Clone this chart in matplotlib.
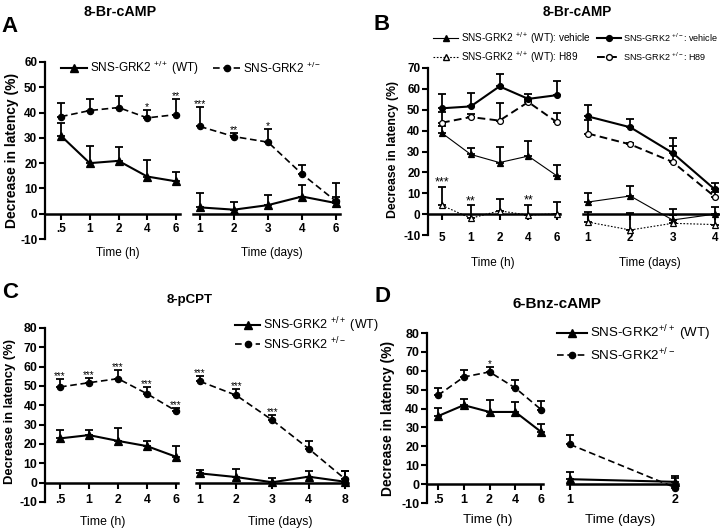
import matplotlib
matplotlib.use('Agg')
import matplotlib.pyplot as plt
from matplotlib.lines import Line2D
import numpy as np

plt.rcParams['font.family'] = ['Liberation Sans', 'DejaVu Sans']
plt.rcParams['mathtext.fontset'] = 'custom'
plt.rcParams['mathtext.rm'] = 'Liberation Sans'
plt.rcParams['mathtext.it'] = 'Liberation Sans:italic'
plt.rcParams['mathtext.bf'] = 'Liberation Sans:bold'

# ---------------- data ----------------
A_hours = ['.5', '1', '2', '4', '6']
A_days = ['1', '2', '3', '4', '6']
A_wt_h = [30.8, 20.0, 20.9, 14.7, 12.8]
A_wt_h_err = [5.0, 6.6, 5.4, 6.5, 3.8]
A_ko_h = [38.4, 40.8, 42.0, 37.9, 39.2]
A_ko_h_err = [5.3, 4.6, 4.6, 3.1, 6.2]
A_ko_h_sig = ['', '', '', '*', '**']
A_wt_d = [2.5, 1.6, 3.4, 6.8, 4.2]
A_wt_d_err = [5.7, 2.9, 4.1, 4.4, 2.6]
A_ko_d = [34.5, 30.5, 28.3, 15.7, 4.9]
A_ko_d_err = [7.9, 1.6, 5.1, 3.4, 7.2]
A_ko_d_sig = ['***', '**', '*', '', '']

B_hours = ['5', '1', '2', '4', '6']
B_days = ['1', '2', '3', '4']
B_koveh_h = [50.7, 51.6, 61.2, 55.2, 57.0]
B_koveh_h_err = [6.9, 6.4, 5.8, 2.4, 7.0]
B_koh89_h = [43.8, 46.5, 44.8, 53.7, 44.0]
B_koh89_h_err = [5.2, 1.5, 8.2, 1.0, 4.6]
B_wtveh_h = [38.8, 28.6, 24.7, 27.8, 18.3]
B_wtveh_h_err = [3.2, 3.1, 7.5, 7.2, 5.0]
B_wth89_h = [4.2, -2.0, 1.6, -0.5, 0.2]
B_wth89_h_err = [9.0, 6.2, 5.6, 5.1, 5.6]
B_wth89_h_sig = ['***', '**', '', '**', '']
B_koveh_d = [46.8, 41.6, 29.3, 11.8]
B_koveh_d_err = [5.6, 3.9, 7.2, 2.9]
B_koh89_d = [38.6, 33.4, 25.0, 8.3]
B_koh89_d_err = [6.4, 0.8, 7.5, 2.2]
B_wtveh_d = [5.8, 8.7, -2.8, 0.0]
B_wtveh_d_err = [4.5, 4.7, 5.2, 3.5]
B_wth89_d = [-3.8, -7.6, -4.4, -5.0]
B_wth89_d_err = [4.6, 8.3, 4.0, 4.8]

C_hours = ['.5', '1', '2', '4', '6']
C_days = ['1', '2', '3', '4', '8']
C_wt_h = [22.9, 24.6, 21.6, 18.9, 13.4]
C_wt_h_err = [4.6, 2.5, 6.8, 2.7, 5.8]
C_ko_h = [49.5, 51.7, 53.8, 46.0, 37.1]
C_ko_h_err = [4.3, 2.4, 4.6, 3.3, 1.6]
C_ko_h_sig = ['***', '***', '***', '***', '***']
C_wt_d = [4.8, 2.9, 0.2, 3.1, 0.5]
C_wt_d_err = [1.6, 4.1, 2.4, 3.1, 5.5]
C_ko_d = [52.4, 45.2, 32.3, 17.6, 2.0]
C_ko_d_err = [2.8, 3.4, 2.9, 4.1, 4.0]
C_ko_d_sig = ['***', '***', '***', '', '']

D_hours = ['.5', '1', '2', '4', '6']
D_days = ['1', '2']
D_wt_h = [36.0, 41.8, 38.2, 38.2, 27.7]
D_wt_h_err = [4.5, 3.1, 6.2, 5.3, 4.0]
D_ko_h = [47.0, 56.7, 59.4, 50.9, 39.5]
D_ko_h_err = [3.9, 3.9, 2.6, 4.1, 4.4]
D_ko_h_sig = ['', '', '*', '', '']
D_wt_d = [2.6, 1.2]
D_wt_d_err = [3.9, 3.0]
D_ko_d = [21.0, -1.8]
D_ko_d_err = [4.9, 5.0]

# ---------------- figure ----------------
W, H = 720, 530
fig = plt.figure(figsize=(W / 100, H / 100), dpi=100)

DASH = (0, (4, 2.2))
DOT = (0, (1.5, 1.5))


def fx(x):
    return x / W


def fy(y):
    return 1 - y / H


def make_ax(x0, x1, idx0, step, ytop, ybot, ylim, labels, left, fs, pad):
    ax = fig.add_axes([x0 / W, 1 - ybot / H, (x1 - x0) / W, (ybot - ytop) / H])
    ax.set_xlim((x0 - idx0) / step, (x1 - idx0) / step)
    ax.set_ylim(*ylim)
    ax.patch.set_alpha(0)
    ax.spines['top'].set_visible(False)
    ax.spines['right'].set_visible(False)
    ax.spines['bottom'].set_position(('data', 0))
    ax.spines['bottom'].set_linewidth(1.8)
    ax.set_xticks(range(len(labels)))
    ax.set_xticklabels(labels, fontweight='bold', fontsize=fs)
    ax.tick_params(axis='x', direction='out', length=4, width=1.5, pad=pad)
    if left:
        ax.spines['left'].set_linewidth(1.6)
        ticks = list(range(ylim[0], ylim[1] + 1, 10))
        ax.set_yticks(ticks)
        ax.set_yticklabels([str(t) for t in ticks], fontweight='bold', fontsize=fs)
        ax.tick_params(axis='y', direction='out', length=4, width=1.5, pad=1.5)
    else:
        ax.spines['left'].set_visible(False)
        ax.tick_params(axis='y', left=False, labelleft=False)
    return ax


def series(ax, y, err, marker, ls, lw, mfc='black', ms=5.0, elw=1.3):
    x = np.arange(len(y))
    eb = ax.errorbar(x, y, yerr=[np.zeros(len(y)), err], fmt='none', ecolor='black',
                     elinewidth=elw, capsize=3, capthick=elw)
    for art in eb.lines[1] + eb.lines[2]:
        art.set_clip_on(False)
    ax.plot(x, y, color='black', linestyle=ls, lw=lw, marker=marker, ms=ms,
            mfc=mfc, mec='black', mew=0.9, clip_on=False, zorder=4)


def stars(ax, y, err, sig, fs=7.5):
    for i, (v, e, s) in enumerate(zip(y, err, sig)):
        if s:
            ax.annotate(s, (i, v + e), xytext=(0, -1.5), textcoords='offset points',
                        ha='center', va='bottom', fontsize=fs)


def legend_entry(x0, x1, y, text, ls, lw, marker, mfc, ms, fs, gap=3):
    fig.add_artist(Line2D([fx(x0), fx(x1)], [fy(y), fy(y)], transform=fig.transFigure,
                          color='black', ls=ls, lw=lw))
    fig.add_artist(Line2D([fx((x0 + x1) / 2)], [fy(y)], transform=fig.transFigure,
                          marker=marker, mfc=mfc, mec='black', ms=ms, color='black', ls='none'))
    fig.text(fx(x1 + gap), fy(y), text, fontsize=fs, va='center', ha='left')


WT = r'SNS-GRK2 $^{\mathregular{+/+}}$ (WT)'
KO = r'SNS-GRK2 $^{\mathregular{+/-}}$'

# ================= Panel A =================
fig.text(fx(10), fy(27), 'A', fontsize=16, fontweight='bold', ha='center', va='center')
fig.text(fx(120), fy(12), '8-Br-cAMP', fontsize=10.3, fontweight='bold', ha='center', va='center')
fig.text(fx(12), fy(150), 'Decrease in latency (%)', fontsize=10, fontweight='bold',
         rotation=90, ha='center', va='center')
axA1 = make_ax(45, 180, 61, 28.75, 62, 239, (-10, 60), A_hours, True, 8.5, 2.5)
series(axA1, A_wt_h, A_wt_h_err, '^', '-', 1.5, ms=5.5)
series(axA1, A_ko_h, A_ko_h_err, 'o', DASH, 1.2, ms=4.5)
stars(axA1, A_ko_h, A_ko_h_err, A_ko_h_sig)
axA2 = make_ax(193, 340, 200, 34, 62, 239, (-10, 60), A_days, False, 8.5, 2.5)
series(axA2, A_wt_d, A_wt_d_err, '^', '-', 1.5, ms=5.5)
series(axA2, A_ko_d, A_ko_d_err, 'o', DASH, 1.2, ms=4.5)
stars(axA2, A_ko_d, A_ko_d_err, A_ko_d_sig)
fig.text(fx(118), fy(253), 'Time (h)', fontsize=8.5, ha='center', va='center')
fig.text(fx(272), fy(253), 'Time (days)', fontsize=8.5, ha='center', va='center')
legend_entry(61, 87, 68, WT, '-', 1.5, '^', 'black', 5.5, 8.5)
legend_entry(213, 240, 68, KO, DASH, 1.2, 'o', 'black', 4.5, 8.5)

# ================= Panel B =================
fig.text(fx(382), fy(25), 'B', fontsize=16, fontweight='bold', ha='center', va='center')
fig.text(fx(577), fy(12), '8-Br-cAMP', fontsize=9.8, fontweight='bold', ha='center', va='center')
fig.text(fx(393), fy(150), 'Decrease in latency (%)', fontsize=8.8, fontweight='bold',
         rotation=90, ha='center', va='center')
axB1 = make_ax(428, 560, 442, 28.75, 68, 235, (-10, 70), B_hours, True, 8.5, 9)
series(axB1, B_wtveh_h, B_wtveh_h_err, '^', '-', 0.8, ms=5)
series(axB1, B_wth89_h, B_wth89_h_err, '^', DOT, 0.8, mfc='white', ms=5)
series(axB1, B_koh89_h, B_koh89_h_err, 'o', DASH, 1.4, mfc='white', ms=4.2)
series(axB1, B_koveh_h, B_koveh_h_err, 'o', '-', 1.5, ms=4.2)
stars(axB1, B_wth89_h, B_wth89_h_err, B_wth89_h_sig, fs=9)
axB2 = make_ax(583, 720, 588, 42.3, 68, 235, (-10, 70), B_days, False, 8.5, 9)
series(axB2, B_wtveh_d, B_wtveh_d_err, '^', '-', 0.8, ms=5)
series(axB2, B_wth89_d, B_wth89_d_err, '^', DOT, 0.8, mfc='white', ms=5)
series(axB2, B_koh89_d, B_koh89_d_err, 'o', DASH, 1.4, mfc='white', ms=4.2)
series(axB2, B_koveh_d, B_koveh_d_err, 'o', '-', 1.5, ms=4.2)
fig.text(fx(493), fy(263), 'Time (h)', fontsize=8.5, ha='center', va='center')
fig.text(fx(650), fy(263), 'Time (days)', fontsize=8.5, ha='center', va='center')
legend_entry(433, 458, 38, r'SNS-GRK2 $^{\mathregular{+/+}}$ (WT): vehicle', '-', 0.8, '^', 'black', 5, 7.2)
legend_entry(433, 458, 57, r'SNS-GRK2 $^{\mathregular{+/+}}$ (WT): H89', DOT, 0.8, '^', 'white', 5, 7.2)
legend_entry(597, 621, 38, r'SNS-GRK2 $^{\mathregular{+/-}}$: vehicle', '-', 1.5, 'o', 'black', 4.2, 6.5, gap=2)
legend_entry(597, 621, 57, r'SNS-GRK2 $^{\mathregular{+/-}}$: H89', DASH, 1.4, 'o', 'white', 4.2, 6.5, gap=2)

# ================= Panel C =================
fig.text(fx(10), fy(293), 'C', fontsize=16, fontweight='bold', ha='center', va='center')
fig.text(fx(190), fy(300), '8-pCPT', fontsize=9.5, fontweight='bold', ha='center', va='center')
fig.text(fx(10), fy(412), 'Decrease in latency (%)', fontsize=9.4, fontweight='bold',
         rotation=90, ha='center', va='center')
axC1 = make_ax(45, 178, 60, 29, 328, 502, (-10, 80), C_hours, True, 8.8, 4.5)
series(axC1, C_wt_h, C_wt_h_err, '^', '-', 1.5, ms=5.5)
series(axC1, C_ko_h, C_ko_h_err, 'o', DASH, 1.2, ms=4.5)
stars(axC1, C_ko_h, C_ko_h_err, C_ko_h_sig, fs=7)
axC2 = make_ax(196, 348, 200, 36.2, 328, 502, (-10, 80), C_days, False, 8.8, 4.5)
series(axC2, C_wt_d, C_wt_d_err, '^', '-', 1.5, ms=5.5)
series(axC2, C_ko_d, C_ko_d_err, 'o', DASH, 1.2, ms=4.5)
stars(axC2, C_ko_d, C_ko_d_err, C_ko_d_sig, fs=7)
fig.text(fx(103), fy(522), 'Time (h)', fontsize=8.8, ha='center', va='center')
fig.text(fx(280), fy(522), 'Time (days)', fontsize=8.8, ha='center', va='center')
legend_entry(235, 260, 325, WT, '-', 1.5, '^', 'black', 5.5, 9)
legend_entry(235, 260, 344, KO, DASH, 1.2, 'o', 'black', 4.5, 9)

# ================= Panel D =================
fig.text(fx(383), fy(297), 'D', fontsize=16, fontweight='bold', ha='center', va='center')
fig.text(fx(557), fy(304), '6-Bnz-cAMP', fontsize=11, fontweight='bold', ha='center', va='center')
fig.text(fx(388), fy(418), 'Decrease in latency (%)', fontsize=10, fontweight='bold',
         rotation=90, ha='center', va='center')
axD1 = make_ax(427, 543, 438, 25.75, 333, 503, (-10, 80), D_hours, True, 9, 3)
series(axD1, D_wt_h, D_wt_h_err, '^', '-', 1.5, ms=5.5)
series(axD1, D_ko_h, D_ko_h_err, 'o', DASH, 1.2, ms=4.5)
stars(axD1, D_ko_h, D_ko_h_err, D_ko_h_sig, fs=7)
axD2 = make_ax(567, 678, 570, 105, 333, 503, (-10, 80), D_days, False, 9, 3)
series(axD2, D_wt_d, D_wt_d_err, '^', '-', 1.5, ms=5.5)
series(axD2, D_ko_d, D_ko_d_err, 'o', DASH, 1.2, ms=4.5)
fig.text(fx(488), fy(520), 'Time (h)', fontsize=9.6, ha='center', va='center')
fig.text(fx(620), fy(520), 'Time (days)', fontsize=9.6, ha='center', va='center')
legend_entry(557, 587, 333, r'SNS-GRK2$^{\mathregular{+/+}}$ (WT)', '-', 1.5, '^', 'black', 5.5, 9.6)
legend_entry(557, 587, 355, r'SNS-GRK2$^{\mathregular{+/-}}$', DASH, 1.2, 'o', 'black', 4.5, 9.6)

fig.savefig('out.png', dpi=100)
